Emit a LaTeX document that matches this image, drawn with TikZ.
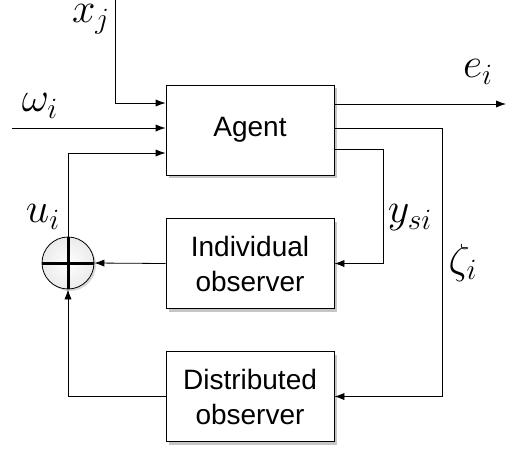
\RequirePackage{fix-cm}
\documentclass[tikz,border=0pt]{standalone}
\usepackage{fontspec}
\setmainfont{Liberation Sans}
\usetikzlibrary{arrows.meta,shadows}
\begin{document}
\begin{tikzpicture}[x=0.5pt,y=-0.5pt,
    block/.style={draw,fill=white,minimum width=84pt,minimum height=45pt,
      align=center,font=\fontsize{14}{17.5}\selectfont,
      drop shadow={shadow xshift=1.5pt,shadow yshift=-1.5pt,opacity=0.45}},
    sig/.style={-{Latex[length=5pt,width=3.6pt]}},
    lbl/.style={font=\fontsize{21}{25}\selectfont,inner sep=0pt}]
    \useasboundingbox (0,0) rectangle (506,451);

    % Blocks
    \node[block] (agent) at (250,130) {Agent};
    \node[block] (indiv) at (250,263.5) {Individual\\observer};
    \node[block] (dist) at (250,396.5) {Distributed\\observer};

    % Summing junction
    \node[draw,circle,inner color=white,outer color=black!8,minimum size=26pt,inner sep=0pt,
      drop shadow={shadow xshift=1pt,shadow yshift=-1pt,opacity=0.3}] (sum) at (68,263) {};
    \draw[line width=1.5pt] (sum.north) -- (sum.south) (sum.west) -- (sum.east);

    % Free ends
    \coordinate (xj) at (115,0);
    \coordinate (win) at (12,128);
    \coordinate (eout) at (506,104);

    % Inputs
    \draw[sig] (xj) |- ([yshift=13.5pt]agent.west);
    \draw[sig] (win) -- (win -| agent.west);
    \draw[sig] (sum.north) |- ([yshift=-11.5pt]agent.west);

    % Outputs and feedback
    \draw[sig] ([yshift=13pt]agent.east) -- (eout);
    \draw[sig] ([yshift=1pt]agent.east) -- ++(108,0) |- (dist.east);
    \draw[sig] ([yshift=-9.5pt]agent.east) -- ++(49,0) |- (indiv.east);
    \draw[sig] (indiv.west) -- (sum.east);
    \draw[sig] (dist.west) -| (sum.south);

    % Labels
    \node[lbl,anchor=north] (lxj) at (91,4) {$x_j$};
    \node[lbl] (lw) at (40,106) {$\omega_i$};
    \node[lbl] (le) at (478,72) {$e_i$};
    \node[lbl] (lu) at (43,217) {$u_i$};
    \node[lbl] (ly) at (410,218) {$y_{si}$};
    \node[lbl] (lz) at (463,263) {$\zeta_i$};
\end{tikzpicture}
\end{document}
